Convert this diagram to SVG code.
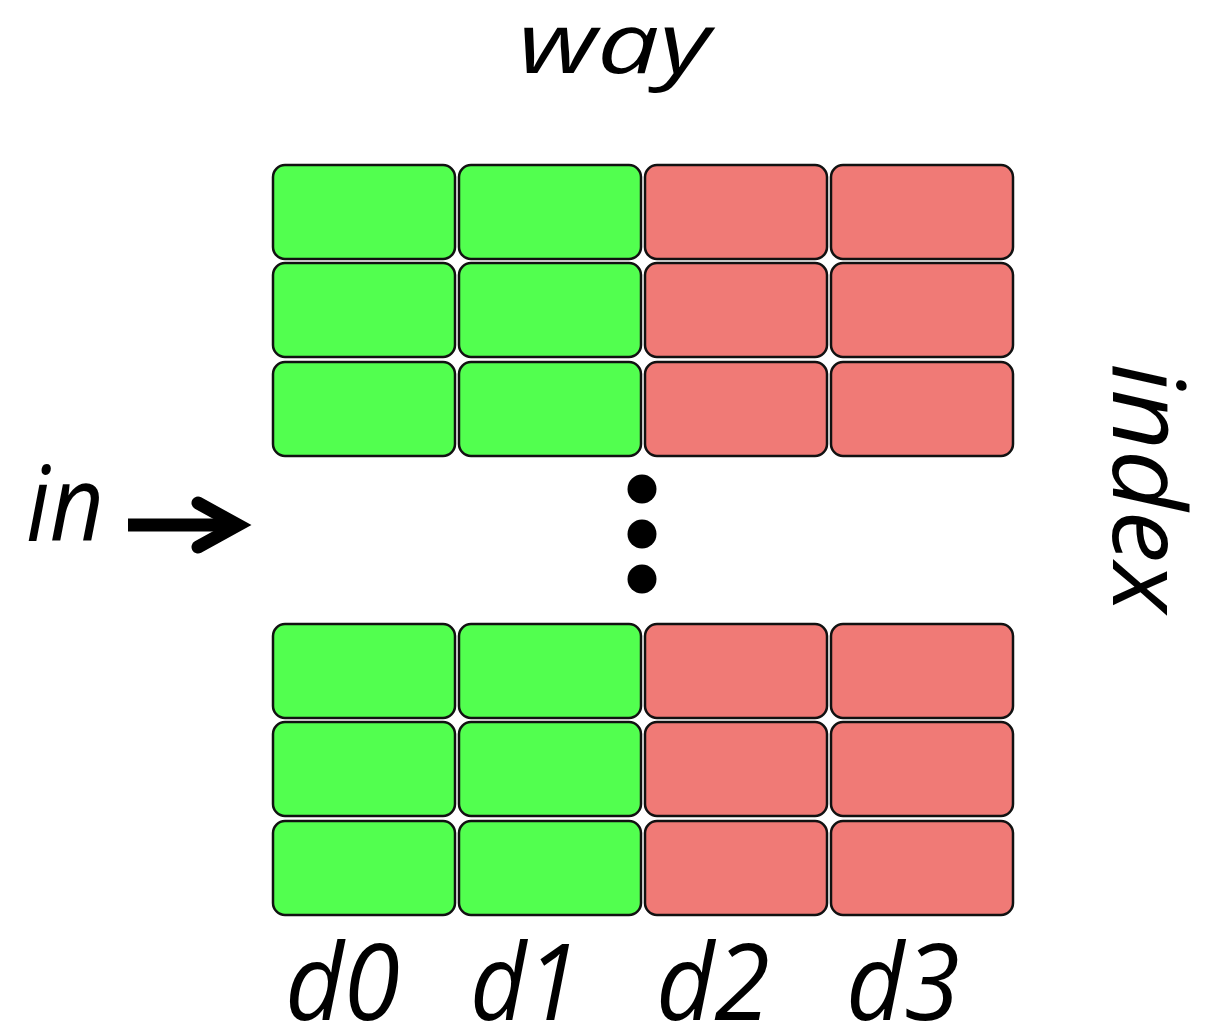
<svg xmlns="http://www.w3.org/2000/svg" width="1214" height="1023" viewBox="0 0 1214 1023">
  <style>
    .lbl { font-family: "Open Sans", "Liberation Sans", sans-serif; font-style: italic; fill: #000; }
    .cell { stroke: #111; stroke-width: 2.5; }
    .g { fill: #52FF4F; }
    .r { fill: #F07A76; }
  </style>
  <defs>
    <rect id="c" width="182" height="94" rx="12" ry="12"/>
  </defs>

  <!-- axis labels -->
  <text id="way" class="lbl" x="518" y="73" font-size="84" textLength="192" lengthAdjust="spacingAndGlyphs">way</text>
  <text id="index" class="lbl" font-size="100" transform="translate(1113,363) rotate(90)" textLength="250" lengthAdjust="spacingAndGlyphs">index</text>
  <text id="in" class="lbl" x="26" y="541" font-size="104" textLength="78" lengthAdjust="spacingAndGlyphs">in</text>

  <!-- input arrow -->
  <g id="connectors" stroke="#000" fill="none">
    <line x1="128" y1="525" x2="236" y2="525" stroke-width="13"/>
    <polyline points="198,503 238,525 198,547" stroke-width="13" stroke-linecap="round" stroke-linejoin="miter"/>
  </g>

  <!-- upper block of rows -->
  <g id="row0">
    <use href="#c" class="cell g" x="273" y="165"/>
    <use href="#c" class="cell g" x="459" y="165"/>
    <use href="#c" class="cell r" x="645" y="165"/>
    <use href="#c" class="cell r" x="831" y="165"/>
  </g>
  <g id="row1">
    <use href="#c" class="cell g" x="273" y="263"/>
    <use href="#c" class="cell g" x="459" y="263"/>
    <use href="#c" class="cell r" x="645" y="263"/>
    <use href="#c" class="cell r" x="831" y="263"/>
  </g>
  <g id="row2">
    <use href="#c" class="cell g" x="273" y="362"/>
    <use href="#c" class="cell g" x="459" y="362"/>
    <use href="#c" class="cell r" x="645" y="362"/>
    <use href="#c" class="cell r" x="831" y="362"/>
  </g>

  <!-- vertical ellipsis -->
  <g id="ellipsis" fill="#000">
    <circle cx="642" cy="489" r="14.5"/>
    <circle cx="642" cy="534" r="14.5"/>
    <circle cx="642" cy="579" r="14.5"/>
  </g>

  <!-- lower block of rows -->
  <g id="row3">
    <use href="#c" class="cell g" x="273" y="624"/>
    <use href="#c" class="cell g" x="459" y="624"/>
    <use href="#c" class="cell r" x="645" y="624"/>
    <use href="#c" class="cell r" x="831" y="624"/>
  </g>
  <g id="row4">
    <use href="#c" class="cell g" x="273" y="722"/>
    <use href="#c" class="cell g" x="459" y="722"/>
    <use href="#c" class="cell r" x="645" y="722"/>
    <use href="#c" class="cell r" x="831" y="722"/>
  </g>
  <g id="row5">
    <use href="#c" class="cell g" x="273" y="821"/>
    <use href="#c" class="cell g" x="459" y="821"/>
    <use href="#c" class="cell r" x="645" y="821"/>
    <use href="#c" class="cell r" x="831" y="821"/>
  </g>

  <!-- column labels -->
  <g id="cols">
    <text class="lbl" x="285" y="1020" font-size="106" textLength="115" lengthAdjust="spacingAndGlyphs">d0</text>
    <text class="lbl" x="470" y="1020" font-size="106" textLength="110" lengthAdjust="spacingAndGlyphs">d1</text>
    <text class="lbl" x="656" y="1020" font-size="106" textLength="114" lengthAdjust="spacingAndGlyphs">d2</text>
    <text class="lbl" x="846" y="1020" font-size="106" textLength="114" lengthAdjust="spacingAndGlyphs">d3</text>
  </g>
</svg>
